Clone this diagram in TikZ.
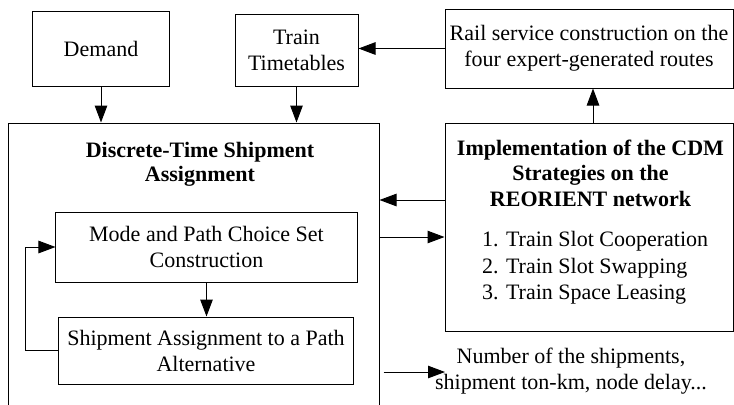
\documentclass[tikz,border=0pt]{standalone}
\usepackage{fontspec}
\setmainfont{Liberation Serif}
\usetikzlibrary{arrows.meta}
\begin{document}
\begin{tikzpicture}[x=1bp,y=-1bp,
  every node/.style={font=\fontsize{22bp}{26bp}\selectfont, inner sep=0pt},
  box/.style={draw, line width=1bp, align=center},
  arr/.style={line width=1bp, -{Triangle[length=17bp,width=12.5bp]}},
  ln/.style={line width=1bp}]
\useasboundingbox (0,0) rectangle (734,404);
\clip (0,0) rectangle (734,404);
% boxes
\node[box, minimum width=136bp, minimum height=75bp] (demand) at (101,48.5) {Demand};
\node[box, minimum width=123bp, minimum height=72bp] (tt) at (296.5,50) {Train\\Timetables};
\node[box, minimum width=288bp, minimum height=79bp] (rail) at (589,48.5) {Rail service construction on the\\four expert-generated routes};
\node[box, minimum width=370bp, minimum height=307bp] (main) at (194,276.5) {};
\node[align=center, font=\fontsize{22bp}{24bp}\selectfont\bfseries] (maintitle) at (200,164) {Discrete-Time Shipment\\Assignment};
\node[box, minimum width=301bp, minimum height=70bp] (mode) at (206.5,247) {Mode and Path Choice Set\\Construction};
\node[box, minimum width=294bp, minimum height=67bp] (ship) at (206,350.5) {Shipment Assignment to a Path\\Alternative};
\node[box, minimum width=288bp, minimum height=208bp] (impl) at (589,227) {};
\node[align=center, font=\fontsize{22bp}{25.5bp}\selectfont\bfseries] (impltitle) at (590.5,173) {Implementation of the CDM\\Strategies on the\\REORIENT network};
\node[align=left, anchor=west, font=\fontsize{22bp}{26.5bp}\selectfont] (impllist) at (482,268) {1. Train Slot Cooperation\\2. Train Slot Swapping\\3. Train Space Leasing};
\node[align=center] (out) at (571,371) {Number of the shipments,\\shipment ton-km, node delay...};
% coordinates
\coordinate (a1) at (0,200);
\coordinate (a2) at (0,237);
\coordinate (a3) at (0,372);
\coordinate (outtip) at (445,372);
% connectors
\draw[arr] (demand.south) -- (demand.south |- main.north);
\draw[arr] (tt.south) -- (tt.south |- main.north);
\draw[arr] (rail.west) -- (rail.west -| tt.east);
\draw[arr] ([xshift=4bp]impl.north) -- ([xshift=4bp]rail.south);
\draw[arr] (impl.west |- a1) -- (main.east |- a1);
\draw[arr] (main.east |- a2) -- (impl.west |- a2);
\draw[arr] ([xshift=4bp]main.east |- a3) -- (outtip);
\draw[arr] (mode.south) -- (mode.south |- ship.north);
\draw[arr] (ship.west) -- ++(-33,0) |- (mode.west);
\end{tikzpicture}
\end{document}
